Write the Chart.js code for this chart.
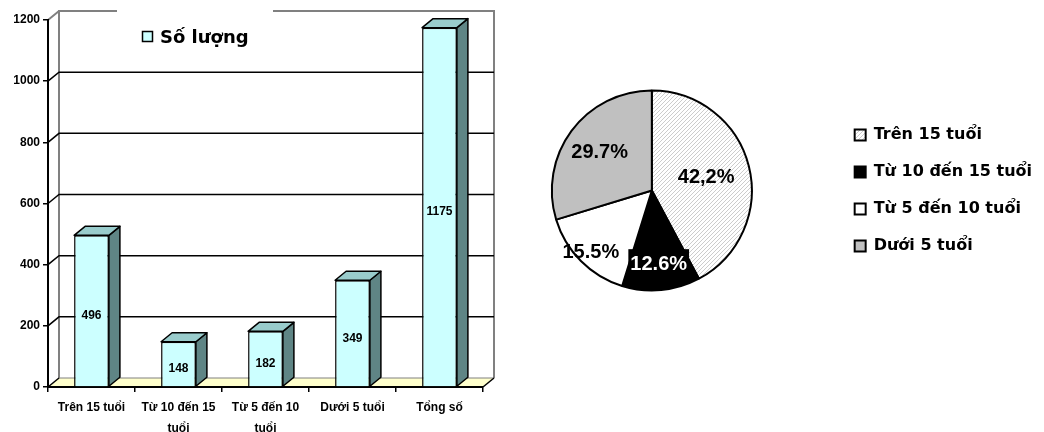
<!DOCTYPE html>
<html>
<head>
<meta charset="utf-8">
<script src="https://cdn.jsdelivr.net/npm/chart.js@4.4.1/dist/chart.umd.min.js"></script>
<style>
  html, body { margin: 0; padding: 0; background: #fff; }
  body { width: 1044px; height: 432px; position: relative; overflow: hidden; }
  canvas { position: absolute; top: 0; }
  #bars { left: 0; }
  #pie { left: 470px; }
</style>
</head>
<body>
<canvas id="bars" width="520" height="432"></canvas>
<canvas id="pie" width="574" height="432"></canvas>
<script>
// bar chart data
var categories = [['Trên 15 tuổi'], ['Từ 10 đến 15', 'tuổi'], ['Từ 5 đến 10', 'tuổi'], ['Dưới 5 tuổi'], ['Tổng số']];
var counts = [496, 148, 182, 349, 1175];
var seriesName = 'Số lượng';
var yMax = 1200, yStep = 200;

// pie chart data
var ageGroups = ['Trên 15 tuổi', 'Từ 10 đến 15 tuổi', 'Từ 5 đến 10 tuổi', 'Dưới 5 tuổi'];
var shares = [42.2, 12.6, 15.5, 29.7];
var shareLabels = ['42,2%', '12.6%', '15.5%', '29.7%'];

var ARIAL = '"Liberation Sans", Arial, sans-serif';
var WIDE = '"DejaVu Sans", Verdana, sans-serif';
Chart.defaults.color = '#000';
Chart.defaults.font.family = ARIAL;

// depth of the fake 3d box
var DX = 11, DY = -9;

function poly(ctx, pts, fill) {
	ctx.beginPath();
	ctx.moveTo(pts[0][0], pts[0][1]);
	for (var i = 1; i < pts.length; i++) ctx.lineTo(pts[i][0], pts[i][1]);
	ctx.closePath();
	ctx.fillStyle = fill;
	ctx.fill();
	ctx.stroke();
}

// floor, back wall and its grid lines
var walls = {
	id: 'walls',
	beforeDraw: function(chart){
		var ctx = chart.ctx, a = chart.chartArea, y = chart.scales.y;
		ctx.save();
		ctx.fillStyle = '#ffffcc';
		ctx.beginPath();
		ctx.moveTo(a.left, a.bottom);
		ctx.lineTo(a.right, a.bottom);
		ctx.lineTo(a.right + DX, a.bottom + DY);
		ctx.lineTo(a.left + DX, a.bottom + DY);
		ctx.closePath();
		ctx.fill();

		ctx.strokeStyle = '#808080';
		ctx.lineWidth = 2;
		ctx.beginPath();
		ctx.moveTo(a.left + DX, a.bottom + DY);
		ctx.lineTo(a.left + DX, a.top + DY);
		ctx.lineTo(a.right + DX, a.top + DY);
		ctx.lineTo(a.right + DX, a.bottom + DY);
		ctx.moveTo(a.left, a.top);
		ctx.lineTo(a.left + DX, a.top + DY);
		ctx.stroke();

		ctx.lineWidth = 1;
		ctx.beginPath();
		ctx.moveTo(a.left + DX, a.bottom + DY);
		ctx.lineTo(a.right + DX, a.bottom + DY);
		ctx.stroke();

		ctx.strokeStyle = '#000';
		ctx.lineWidth = 1.5;
		ctx.beginPath();
		ctx.moveTo(a.right, a.bottom);
		ctx.lineTo(a.right + DX, a.bottom + DY);
		ctx.stroke();

		y.ticks.forEach(function(t){
			if (t.value >= y.max) return;
			var py = y.getPixelForValue(t.value);
			ctx.beginPath();
			ctx.moveTo(a.left, py);
			ctx.lineTo(a.left + DX, py + DY);
			if (t.value > y.min) ctx.lineTo(a.right + DX, py + DY);
			ctx.stroke();
		});
		ctx.restore();
	}
};

// side and top faces of each bar plus the value inside it
var boxes = {
	id: 'boxes',
	afterDatasetsDraw: function(chart){
		var ctx = chart.ctx;
		ctx.save();
		ctx.lineWidth = 1.5;
		ctx.strokeStyle = '#000';
		ctx.lineJoin = 'round';
		chart.getDatasetMeta(0).data.forEach(function(bar, i){
			var p = bar.getProps(['x', 'y', 'base', 'width'], true);
			var l = p.x - p.width / 2, r = p.x + p.width / 2;
			poly(ctx, [[r, p.y], [r + DX, p.y + DY], [r + DX, p.base + DY], [r, p.base]], '#5f8585');
			poly(ctx, [[l, p.y], [l + DX, p.y + DY], [r + DX, p.y + DY], [r, p.y]], '#99cccc');
			ctx.fillStyle = '#000';
			ctx.font = 'bold 12px ' + ARIAL;
			ctx.textAlign = 'center';
			ctx.textBaseline = 'middle';
			ctx.fillText(String(counts[i]), p.x, (p.y + p.base) / 2 + 5);
		});
		ctx.restore();
	}
};

// series key sitting on the top edge of the back wall
var seriesKey = {
	id: 'seriesKey',
	afterDraw: function(chart){
		var ctx = chart.ctx;
		ctx.save();
		ctx.fillStyle = '#fff';
		ctx.fillRect(117, 4, 156, 14);
		ctx.fillStyle = '#ccffff';
		ctx.strokeStyle = '#000';
		ctx.lineWidth = 1.5;
		ctx.fillRect(142.5, 31.5, 10, 10);
		ctx.strokeRect(142.5, 31.5, 10, 10);
		ctx.fillStyle = '#000';
		ctx.font = 'bold 18px ' + WIDE;
		ctx.textBaseline = 'alphabetic';
		ctx.fillText(seriesName, 160, 43);
		ctx.restore();
	}
};

new Chart(document.getElementById('bars'), {
	type: 'bar',
	data: {
		labels: categories,
		datasets: [{
			label: seriesName,
			data: counts,
			backgroundColor: '#ccffff',
			borderColor: '#000',
			borderWidth: 1.5,
			borderSkipped: 'start',
			barPercentage: 0.4,
			categoryPercentage: 1
		}]
	},
	options: {
		responsive: false,
		animation: false,
		layout: { padding: { top: 20, right: 37, left: 0, bottom: 0 } },
		plugins: { legend: { display: false }, tooltip: { enabled: false } },
		scales: {
			x: {
				afterFit: function(s){ s.height = 45; },
				grid: { offset: true, drawOnChartArea: false, tickLength: 5, color: '#000', lineWidth: 1.5 },
				border: { color: '#000', width: 2 },
				ticks: { maxRotation: 0, autoSkip: false, padding: 5, font: { weight: 'bold', size: 12, lineHeight: 1.75 } }
			},
			y: {
				min: 0,
				max: yMax,
				afterFit: function(s){ s.width = 48; },
				grid: { drawOnChartArea: false, tickLength: 5, color: '#000', lineWidth: 1.5 },
				border: { color: '#000', width: 2 },
				ticks: {
					stepSize: yStep,
					padding: 3,
					font: { weight: 'bold', size: 12 },
					callback: function(v){ return String(v); }
				}
			}
		}
	},
	plugins: [walls, boxes, seriesKey]
});

// light diagonal hatch for the first slice
function hatch() {
	var c = document.createElement('canvas');
	c.width = 4; c.height = 4;
	var g = c.getContext('2d');
	g.fillStyle = '#fff';
	g.fillRect(0, 0, 4, 4);
	g.fillStyle = '#cccccc';
	for (var i = 0; i < 4; i++) g.fillRect(3 - i, i, 1, 1);
	return g.createPattern(c, 'repeat');
}

var labelRadius = [0.56, 0.73, 0.86, 0.65];

var sliceLabels = {
	id: 'sliceLabels',
	afterDatasetsDraw: function(chart){
		var ctx = chart.ctx;
		ctx.save();
		ctx.font = 'bold 20px ' + ARIAL;
		ctx.textAlign = 'center';
		ctx.textBaseline = 'middle';
		chart.getDatasetMeta(0).data.forEach(function(arc, i){
			var p = arc.getProps(['x', 'y', 'startAngle', 'endAngle', 'outerRadius'], true);
			var mid = (p.startAngle + p.endAngle) / 2;
			var r = p.outerRadius * labelRadius[i];
			var lx = p.x + Math.cos(mid) * r, ly = p.y + Math.sin(mid) * r;
			var text = shareLabels[i];
			if (i === 1) {
				var w = ctx.measureText(text).width;
				ctx.fillStyle = '#000';
				ctx.fillRect(lx - w / 2 - 2, ly - 14, w + 4, 28);
				ctx.fillStyle = '#fff';
			} else {
				ctx.fillStyle = '#000';
			}
			ctx.fillText(text, lx, ly + 1);
		});
		ctx.restore();
	}
};

new Chart(document.getElementById('pie'), {
	type: 'pie',
	data: {
		labels: ageGroups,
		datasets: [{
			data: shares,
			backgroundColor: [hatch(), '#000', '#fff', '#c0c0c0'],
			borderColor: '#000',
			borderWidth: 2,
			radius: 100
		}]
	},
	options: {
		responsive: false,
		animation: false,
		layout: { padding: { top: 0, left: 0, right: 2, bottom: 51 } },
		plugins: {
			tooltip: { enabled: false },
			legend: {
				position: 'right',
				labels: {
					boxWidth: 11,
					boxHeight: 11,
					padding: 21,
					color: '#000',
					font: { family: WIDE, weight: 'bold', size: 16 }
				}
			}
		}
	},
	plugins: [sliceLabels]
});
</script>
</body>
</html>
